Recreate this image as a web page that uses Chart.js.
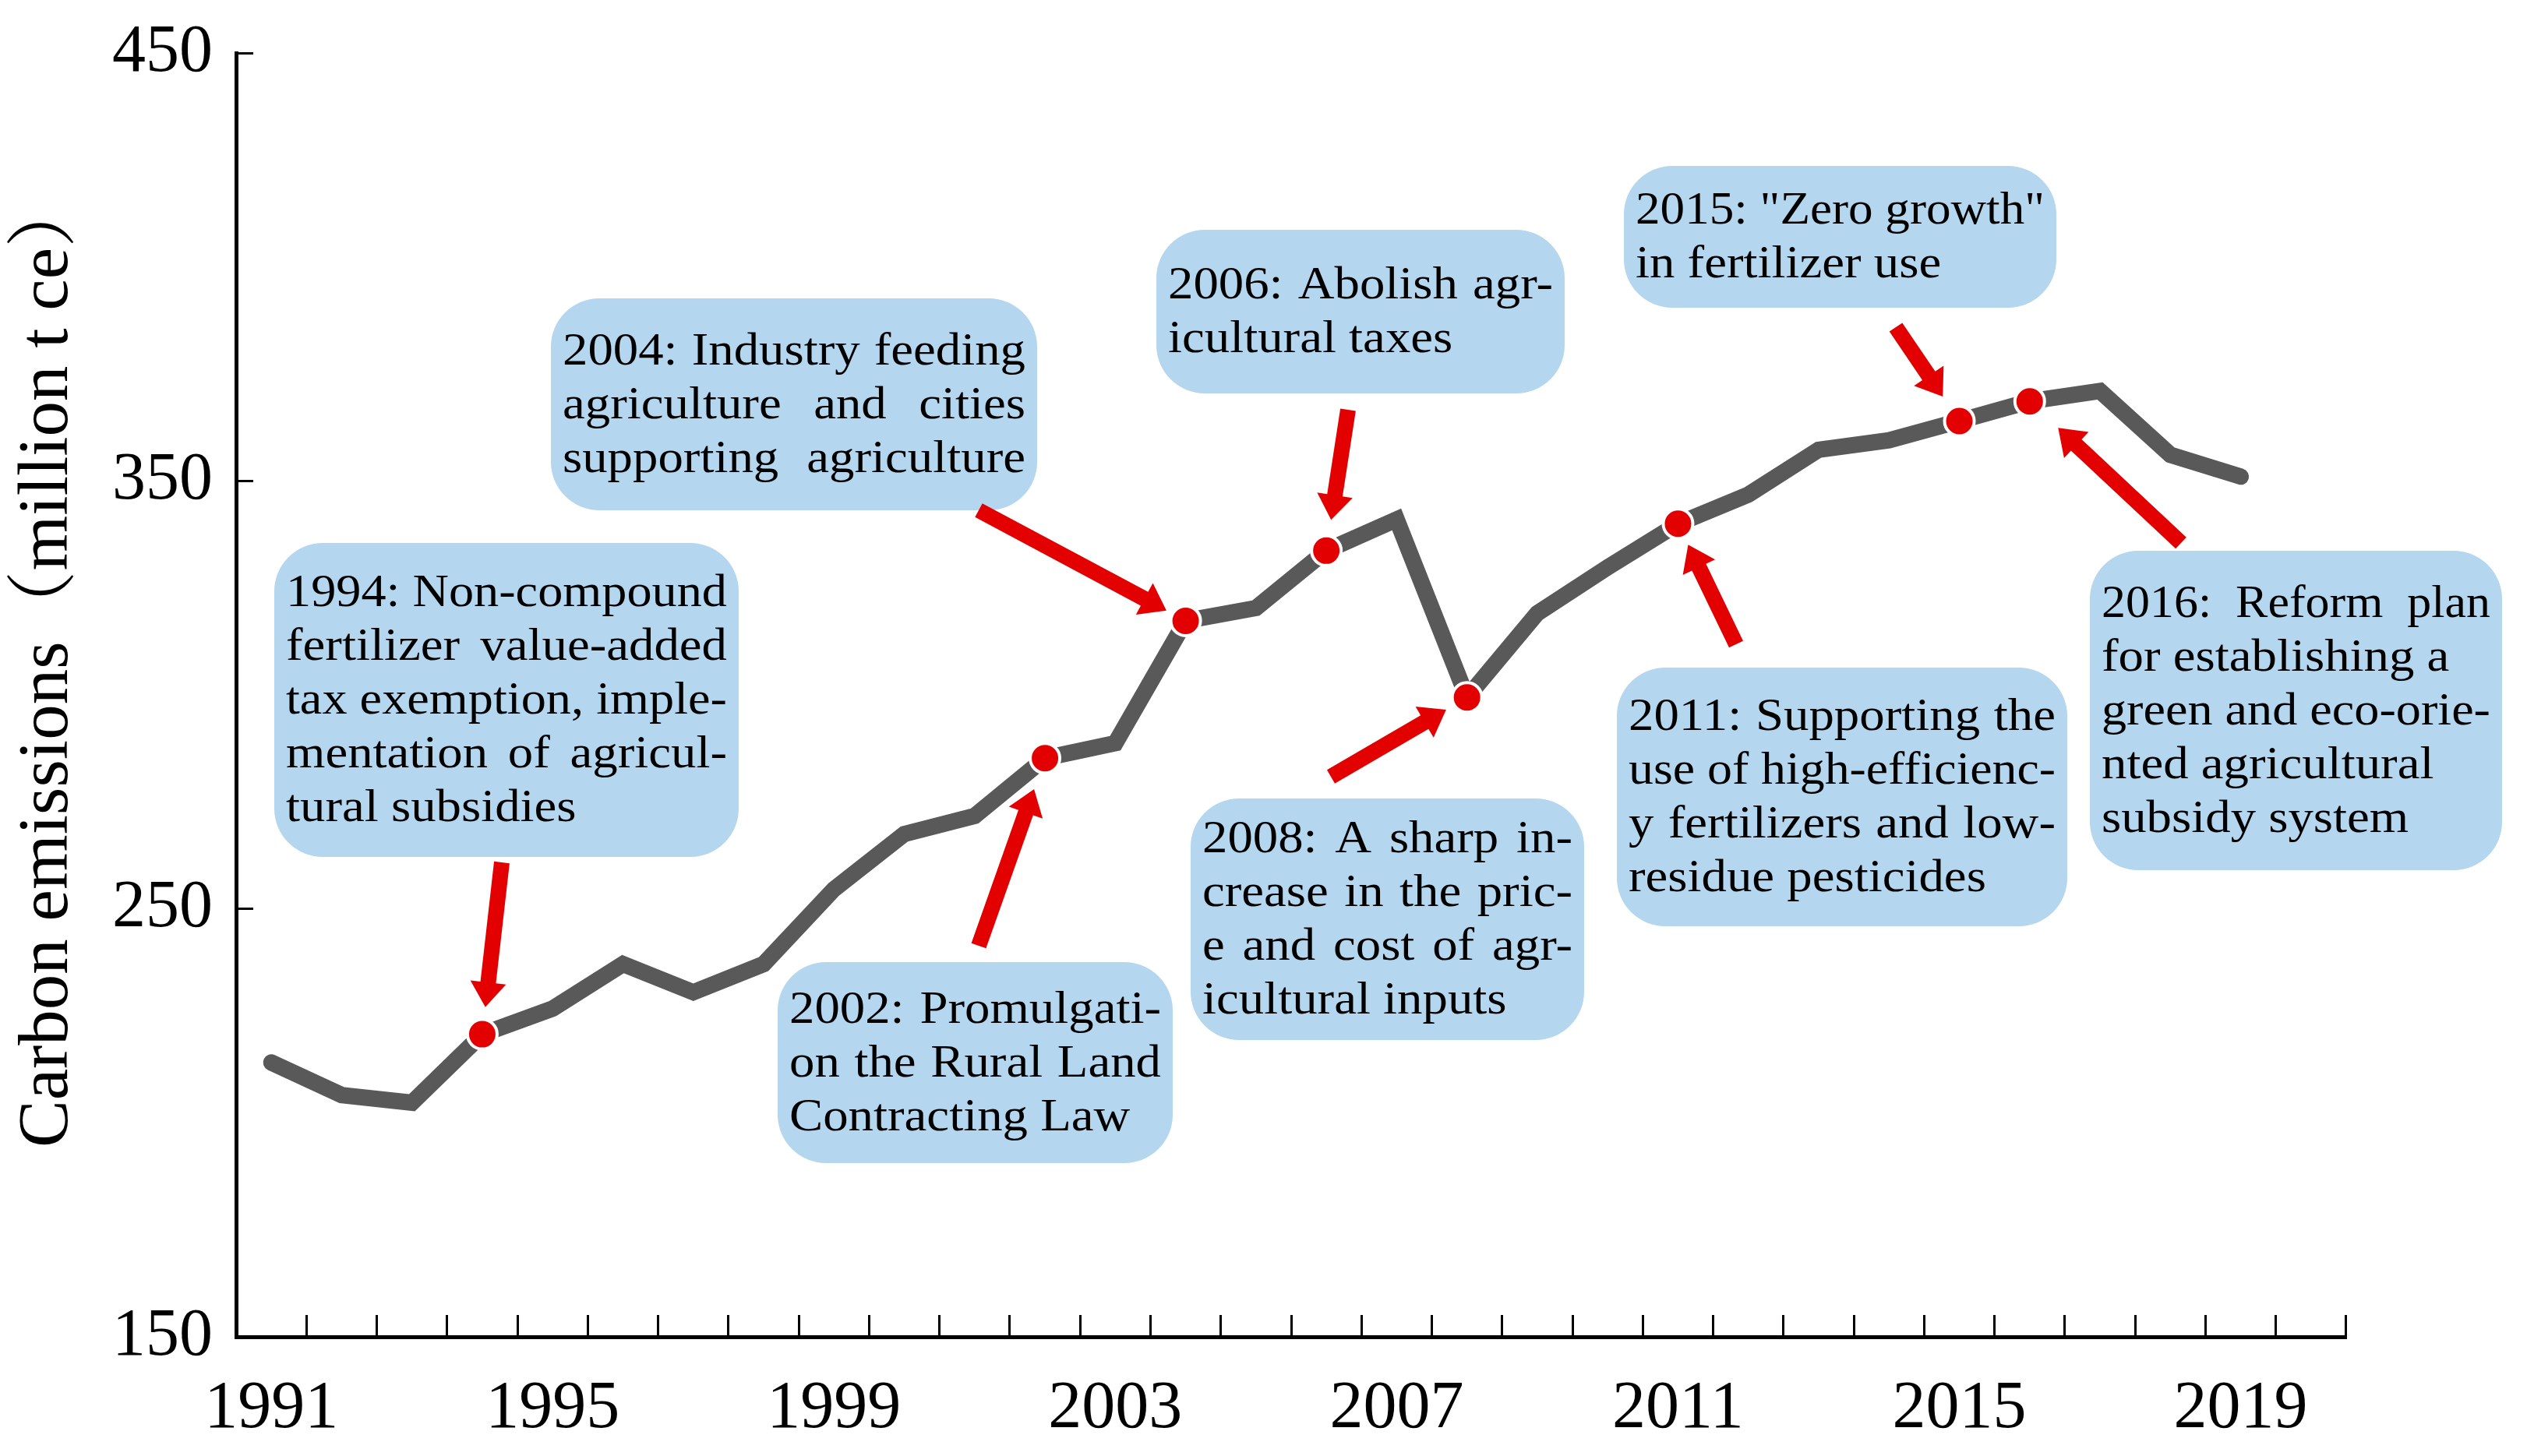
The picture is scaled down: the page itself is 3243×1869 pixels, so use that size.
<!DOCTYPE html>
<html>
<head>
<meta charset="utf-8">
<script src="https://cdn.jsdelivr.net/npm/chart.js@4.4.1/dist/chart.umd.min.js"></script>
<style>
  html, body { margin: 0; padding: 0; background: #fff; }
  #wrap { width: 3243px; height: 1869px; }
</style>
</head>
<body>
<div id="wrap"><canvas id="chart"></canvas></div>
<script>
const years = ["1991", "1992", "1993", "1994", "1995", "1996", "1997", "1998", "1999", "2000",
  "2001", "2002", "2003", "2004", "2005", "2006", "2007", "2008", "2009", "2010",
  "2011", "2012", "2013", "2014", "2015", "2016", "2017", "2018", "2019", "2020"];
const emissions = [214.1, 206.5, 204.7, 220.7, 226.7, 237.1, 230.5, 237.1, 254.6, 267.5,
  271.7, 285.2, 288.7, 317.3, 320.3, 333.7, 341.0, 299.4, 319.1, 329.8,
  340.0, 346.8, 357.3, 359.5, 364.0, 368.6, 371.0, 356.1, 351.0, null];
const markedYears = ["1994", "2002", "2004", "2006", "2008", "2011", "2015", "2016"];
const yTicks = [150, 250, 350, 450];
const xLabelYears = ["1991", "1995", "1999", "2003", "2007", "2011", "2015", "2019"];
const yTitle = "Carbon emissions（million t ce）";

const noteLines = [
  ["1994: Non-compound", "fertilizer value-added", "tax exemption, imple-", "mentation of agricul-", "tural subsidies"],
  ["2002: Promulgati-", "on the Rural Land", "Contracting Law"],
  ["2004: Industry feeding", "agriculture and cities", "supporting agriculture"],
  ["2006: Abolish agr-", "icultural taxes"],
  ["2008: A sharp in-", "crease in the pric-", "e and cost  of agr-", "icultural inputs"],
  ["2011: Supporting the", "use of high-efficienc-", "y fertilizers and low-", "residue pesticides"],
  ["2015: \"Zero growth\"", "in fertilizer use"],
  ["2016:  Reform  plan", "for establishing a", "green and eco-orie-", "nted agricultural", "subsidy system"]
];

// annotation layout (pixels): box x, y, w, h ; arrow tail ; gap before marker
const noteBoxes = [[352, 697, 596, 403], [998, 1235, 507, 258], [707, 383, 624, 272], [1484, 295, 524, 210],
  [1528, 1025, 505, 310], [2075, 857, 578, 332], [2084, 213, 555, 182], [2682, 707, 529, 410]];
const noteTails = [[644, 1107], [1256, 1214], [1256, 655], [1730, 526], [1708, 997], [2228, 827], [2433, 420], [2799, 697]];
const noteGaps = [35, 42, 28, 40, 31, 30, 38, 50];
const noteJustified = [4, 2, 3, 1, 3, 3, 1, 1];

const serif = '"Liberation Serif", "Noto Serif CJK SC", "Noto Sans CJK SC", serif';
const red = "#E30000";
const boxColor = "#B4D6EE";
const stretch = 1.08;

function drawLine(ctx, text, x, y, width, justify) {
  ctx.save();
  ctx.translate(x, y);
  let sx = stretch;
  const natural = ctx.measureText(text).width;
  if (natural * sx > width) sx = width / natural;
  ctx.scale(sx, 1);
  const w = width / sx;
  const words = text.split(" ").filter(s => s.length);
  if (!justify || words.length < 2) {
    ctx.fillText(text, 0, 0);
  } else {
    const wordsW = words.reduce((s, t) => s + ctx.measureText(t).width, 0);
    const gap = (w - wordsW) / (words.length - 1);
    let cx = 0;
    words.forEach(t => {
      ctx.fillText(t, cx, 0);
      cx += ctx.measureText(t).width + gap;
    });
  }
  ctx.restore();
}

function drawArrow(ctx, x0, y0, x1, y1) {
  const ang = Math.atan2(y1 - y0, x1 - x0);
  const len = Math.hypot(x1 - x0, y1 - y0);
  ctx.save();
  ctx.translate(x0, y0);
  ctx.rotate(ang);
  ctx.beginPath();
  ctx.moveTo(0, -10);
  ctx.lineTo(len - 32, -10);
  ctx.lineTo(len - 32, -23);
  ctx.lineTo(len, 0);
  ctx.lineTo(len - 32, 23);
  ctx.lineTo(len - 32, 10);
  ctx.lineTo(0, 10);
  ctx.closePath();
  ctx.fillStyle = red;
  ctx.fill();
  ctx.restore();
}

const notesPlugin = {
  id: "notes",
  afterDatasetsDraw(chart) {
    const { ctx, scales: { x, y } } = chart;
    const lineH = 69;
    ctx.save();
    markedYears.forEach((yr, i) => {
      const [bx, by, bw, bh] = noteBoxes[i];
      ctx.fillStyle = boxColor;
      ctx.beginPath();
      ctx.roundRect(bx, by, bw, bh, 62);
      ctx.fill();

      ctx.font = `60px ${serif}`;
      ctx.fillStyle = "#000";
      ctx.textAlign = "left";
      ctx.textBaseline = "alphabetic";
      const lines = noteLines[i];
      const top = by + bh / 2 - (lines.length * lineH) / 2;
      lines.forEach((t, j) => {
        drawLine(ctx, t, bx + 15, top + j * lineH + 0.76 * lineH, bw - 30, j < noteJustified[i]);
      });

      const idx = years.indexOf(yr);
      const mx = x.getPixelForValue(idx);
      const my = y.getPixelForValue(emissions[idx]);
      const [tx, ty] = noteTails[i];
      const len = Math.hypot(mx - tx, my - ty);
      const hx = mx - ((mx - tx) / len) * noteGaps[i];
      const hy = my - ((my - ty) / len) * noteGaps[i];
      drawArrow(ctx, tx, ty, hx, hy);
    });

    // y axis title
    ctx.translate(62, 850);
    ctx.rotate(-Math.PI / 2);
    ctx.font = `91px ${serif}`;
    ctx.textAlign = "center";
    ctx.textBaseline = "middle";
    ctx.fillText(yTitle, 0, 0);
    ctx.restore();
  }
};

Chart.defaults.font.family = serif;
Chart.defaults.color = "#000";

new Chart(document.getElementById("chart").getContext("2d"), {
  type: "line",
  data: {
    labels: years,
    datasets: [{
      data: emissions,
      borderColor: "#595959",
      borderWidth: 21,
      borderCapStyle: "round",
      borderJoinStyle: "miter",
      tension: 0,
      pointRadius: ctx => markedYears.includes(years[ctx.dataIndex]) ? 19 : 0,
      pointHoverRadius: ctx => markedYears.includes(years[ctx.dataIndex]) ? 19 : 0,
      pointBackgroundColor: red,
      pointBorderColor: "#fff",
      pointBorderWidth: 4
    }]
  },
  options: {
    responsive: true,
    maintainAspectRatio: false,
    devicePixelRatio: 1,
    animation: false,
    layout: { padding: { left: 0, right: 232, top: 68, bottom: 0 } },
    plugins: { legend: { display: false }, tooltip: { enabled: false } },
    scales: {
      x: {
        type: "category",
        offset: true,
        grid: { offset: true, drawOnChartArea: false, tickLength: -28, tickWidth: 3, tickColor: "#000" },
        border: { color: "#000", width: 5 },
        ticks: {
          autoSkip: false,
          maxRotation: 0,
          padding: 70,
          font: { size: 86 },
          callback: (v, i) => xLabelYears.includes(years[i]) ? years[i] : ""
        },
        afterFit: s => { s.height = 153; }
      },
      y: {
        min: 150,
        max: 450,
        afterBuildTicks: s => { s.ticks = yTicks.map(v => ({ value: v })); },
        grid: { drawOnChartArea: false, tickLength: -22, tickWidth: 3, tickColor: "#000" },
        border: { color: "#000", width: 5 },
        ticks: { padding: 52, font: { size: 86, lineHeight: 0.3 } },
        afterFit: s => { s.width = 303; }
      }
    }
  },
  plugins: [notesPlugin]
});
</script>
</body>
</html>
